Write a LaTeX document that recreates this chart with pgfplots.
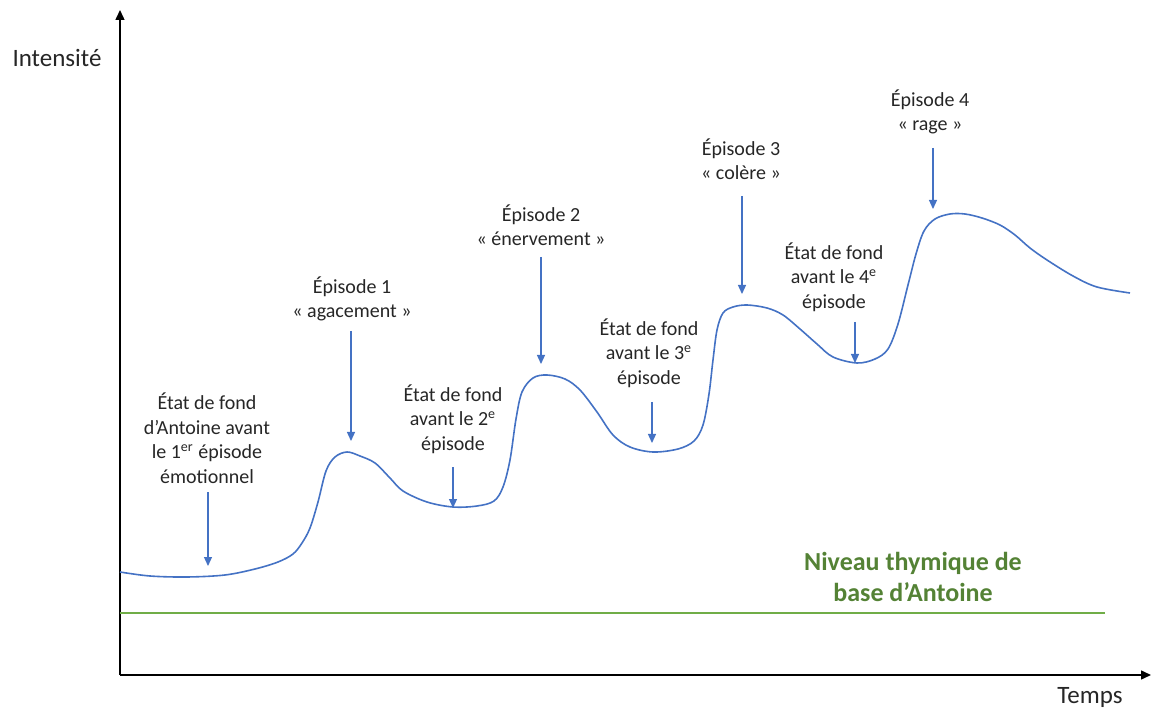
\documentclass[border=0pt]{standalone}
\usepackage{fontspec}
\setmainfont{Carlito}
\usepackage{pgfplots}
\pgfplotsset{compat=1.18}
\usetikzlibrary{arrows.meta}
\definecolor{curveblue}{RGB}{68,114,196}
\definecolor{linegreen}{RGB}{112,173,71}
\definecolor{textgreen}{RGB}{84,130,53}
\tikzset{
  annotation/.style={font=\fontsize{10}{12.25}\selectfont, align=center, inner sep=0pt, text=black!85},
  pointer/.style={curveblue, line width=0.6pt, -{Triangle[width=4pt,length=4.5pt]}},
}
\begin{document}
\begin{tikzpicture}
\begin{axis}[
  scale only axis,
  width=515.5pt, height=332.5pt,
  xmin=120, xmax=1151, ymin=34, ymax=699,
  axis lines=left,
  axis line style={line width=0.75pt, -{Triangle[width=4.5pt,length=5pt]}},
  xtick=\empty, ytick=\empty,
  clip=false,
]
% baseline level
\addplot[linegreen, line width=0.7pt] coordinates {(120,96) (1105,96)};
% intensity curve
\addplot[curveblue, line width=0.8pt, smooth, tension=0.55] coordinates {
(120,137) (150,133) (187,132) (225,134) (255,140) (278,147) (293,155) (302,166) (310,181)
(318,207) (326,238) (335,252) (347,257) (360,253) (375,246) (390,231)
(403,218) (427,207) (453,202) (477,203) (494,208) (503,222) (510,249)
(516,290) (522,317) (533,331) (547,334) (565,330) (580,319) (597,297)
(613,274) (630,262) (653,257) (678,260) (694,268) (703,284) (709,315)
(713,349) (717,379) (723,396) (733,402) (747,404) (767,401) (783,394)
(800,380) (817,365) (833,352) (857,346) (875,350) (888,360) (898,385)
(908,424) (916,455) (924,478) (935,490) (950,495) (965,495) (982,491)
(1000,484) (1015,474) (1030,461) (1047,449) (1073,433) (1097,422) (1130,416)
};
% axis titles
\node[font=\fontsize{12.5}{15}\selectfont, text=black!85] at (axis cs:57,651) {Intensité};
\node[font=\fontsize{12.5}{15}\selectfont, text=black!85] at (axis cs:1090,12) {Temps};
% annotations
\node[annotation] at (axis cs:207,271) {État de fond\\d’Antoine avant\\le 1\textsuperscript{er} épisode\\émotionnel};
\draw[pointer] (axis cs:208,217) -- (axis cs:208,143);
\node[annotation] at (axis cs:352,410) {Épisode 1\\«~agacement~»};
\draw[pointer] (axis cs:351,378) -- (axis cs:351,268);
\node[annotation] at (axis cs:453,290) {État de fond\\avant le 2\textsuperscript{e}\\épisode};
\draw[pointer] (axis cs:453,242) -- (axis cs:453,201);
\node[annotation] at (axis cs:541,484) {Épisode 2\\«~énervement~»};
\draw[pointer] (axis cs:541,452) -- (axis cs:541,345);
\node[annotation] at (axis cs:649,356) {État de fond\\avant le 3\textsuperscript{e}\\épisode};
\draw[pointer] (axis cs:652,307) -- (axis cs:652,266);
\node[annotation] at (axis cs:741,550) {Épisode 3\\«~colère~»};
\draw[pointer] (axis cs:742,513) -- (axis cs:742,415);
\node[annotation] at (axis cs:834,432) {État de fond\\avant le 4\textsuperscript{e}\\épisode};
\draw[pointer] (axis cs:855,387) -- (axis cs:855,346);
\node[annotation] at (axis cs:930,597) {Épisode 4\\«~rage~»};
\draw[pointer] (axis cs:933,561) -- (axis cs:933,500);
\node[font=\fontsize{13}{15.5}\selectfont\bfseries, text=textgreen, align=center, inner sep=0pt] at (axis cs:913,132) {Niveau thymique de\\base d’Antoine};
\coordinate (bbl) at (axis cs:0,0);
\coordinate (btr) at (axis cs:1153,709);
\end{axis}
\path (bbl) rectangle (btr);
\end{tikzpicture}
\end{document}
